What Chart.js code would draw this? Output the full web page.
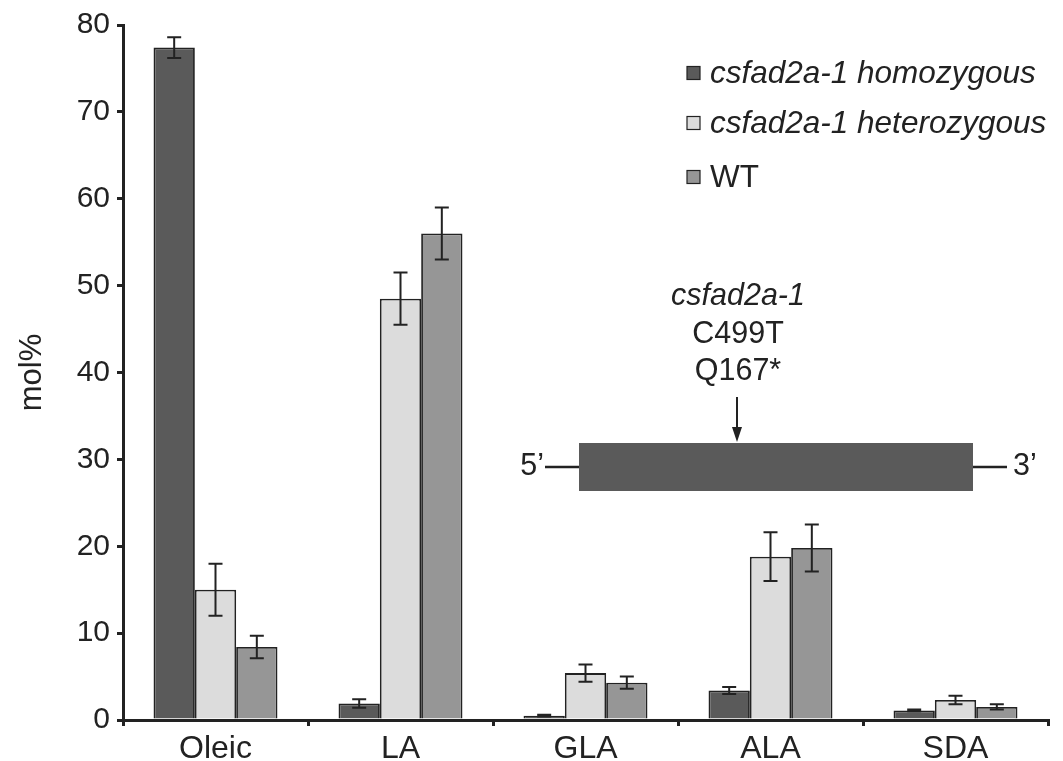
<!DOCTYPE html>
<html>
<head>
<meta charset="utf-8">
<script src="https://cdn.jsdelivr.net/npm/chart.js@4.4.1/dist/chart.umd.min.js"></script>
<style>
  html, body { margin: 0; background: #fff; }
  #wrap { width: 1063px; height: 761px; }
</style>
</head>
<body>
<div id="wrap"><canvas id="c"></canvas></div>
<script>
// fatty acid composition, mol%
const categories = ["Oleic", "LA", "GLA", "ALA", "SDA"];
const seriesNames = ["csfad2a-1 homozygous", "csfad2a-1 heterozygous", "WT"];
const seriesItalic = [true, true, false];
const seriesColors = ["#5a5a5a", "#dcdcdc", "#969696"];

const homozygous = [77.4, 1.9, 0.5, 3.4, 1.1];
const homozygousErr = [1.2, 0.5, 0.1, 0.4, 0.1];
const heterozygous = [15.0, 48.5, 5.4, 18.8, 2.3];
const heterozygousErr = [3.0, 3.0, 1.0, 2.8, 0.5];
const wildType = [8.4, 56.0, 4.3, 19.8, 1.5];
const wildTypeErr = [1.3, 3.0, 0.7, 2.7, 0.3];

const yTicks = [0, 10, 20, 30, 40, 50, 60, 70, 80];

// inset gene model text
const geneLabel = ["csfad2a-1", "C499T", "Q167*"];

const FONT = "'Liberation Sans', Arial, Helvetica, sans-serif";
const INK = "#222";

const errorBars = {
  id: "errorBars",
  afterDatasetsDraw(chart) {
    const { ctx } = chart;
    const y = chart.scales.y;
    ctx.save();
    ctx.strokeStyle = INK;
    ctx.lineWidth = 2;
    chart.data.datasets.forEach((ds, i) => {
      chart.getDatasetMeta(i).data.forEach((bar, j) => {
        const v = ds.data[j], e = ds.errors[j];
        const top = y.getPixelForValue(v + e);
        const bot = y.getPixelForValue(v - e);
        const x = bar.x, w = 7;
        ctx.beginPath();
        ctx.moveTo(x, top); ctx.lineTo(x, bot);
        ctx.moveTo(x - w, top); ctx.lineTo(x + w, top);
        ctx.moveTo(x - w, bot); ctx.lineTo(x + w, bot);
        ctx.stroke();
      });
    });
    ctx.restore();
  }
};

const legendAndInset = {
  id: "legendAndInset",
  afterDraw(chart) {
    const { ctx } = chart;
    ctx.save();

    // legend
    const lx = 687, ly = [73, 123, 177], sq = 13;
    chart.data.datasets.forEach((ds, i) => {
      ctx.fillStyle = ds.backgroundColor;
      ctx.strokeStyle = INK;
      ctx.lineWidth = 1.2;
      ctx.fillRect(lx, ly[i] - sq / 2, sq, sq);
      ctx.strokeRect(lx, ly[i] - sq / 2, sq, sq);
      ctx.fillStyle = INK;
      ctx.font = (seriesItalic[i] ? "italic " : "") + "31.5px " + FONT;
      ctx.textBaseline = "middle";
      ctx.textAlign = "left";
      ctx.fillText(ds.label, lx + sq + 10, ly[i] + 1);
    });

    // gene model
    const rx0 = 579, rx1 = 973, ry0 = 443, ry1 = 491, my = (ry0 + ry1) / 2;
    ctx.fillStyle = "#5a5a5a";
    ctx.fillRect(rx0, ry0, rx1 - rx0, ry1 - ry0);
    ctx.strokeStyle = INK;
    ctx.lineWidth = 2.5;
    ctx.beginPath();
    ctx.moveTo(545, my); ctx.lineTo(rx0, my);
    ctx.moveTo(rx1, my); ctx.lineTo(1007, my);
    ctx.stroke();

    ctx.fillStyle = INK;
    ctx.font = "30.5px " + FONT;
    ctx.textBaseline = "middle";
    ctx.textAlign = "right";
    ctx.fillText("5\u2019", 544, my);
    ctx.textAlign = "left";
    ctx.fillText("3\u2019", 1013, my);

    // arrow
    const ax = 737;
    ctx.lineWidth = 2;
    ctx.beginPath();
    ctx.moveTo(ax, 397); ctx.lineTo(ax, 430);
    ctx.stroke();
    ctx.beginPath();
    ctx.moveTo(ax - 5, 427); ctx.lineTo(ax + 5, 427); ctx.lineTo(ax, 442);
    ctx.closePath();
    ctx.fill();

    ctx.textAlign = "center";
    const ty = [297, 335, 372];
    geneLabel.forEach((t, i) => {
      ctx.font = (i === 0 ? "italic " : "") + "30.5px " + FONT;
      ctx.fillText(t, 738, ty[i]);
    });

    ctx.restore();
  }
};

const values = [homozygous, heterozygous, wildType];
const errs = [homozygousErr, heterozygousErr, wildTypeErr];

new Chart(document.getElementById("c"), {
  type: "bar",
  data: {
    labels: categories,
    datasets: seriesNames.map((name, i) => ({
      label: name,
      data: values[i],
      errors: errs[i],
      backgroundColor: seriesColors[i],
      borderColor: INK,
      borderWidth: 1.8,
      categoryPercentage: 0.67,
      barPercentage: 1.0
    }))
  },
  options: {
    responsive: true,
    maintainAspectRatio: false,
    animation: false,
    layout: { padding: { left: 0, top: 24, right: 15, bottom: 0 } },
    plugins: {
      legend: { display: false },
      tooltip: { enabled: false }
    },
    scales: {
      x: {
        ticks: { color: INK, font: { size: 32, family: FONT }, padding: 4 },
        grid: { drawOnChartArea: false, drawTicks: true, tickLength: 6, color: INK, lineWidth: 3, offset: true },
        border: { color: INK, width: 3 },
        afterFit(s) { s.height = 41; }
      },
      y: {
        min: 0,
        max: 80,
        afterBuildTicks(s) { s.ticks = yTicks.map(v => ({ value: v })); },
        ticks: { color: INK, font: { size: 30, family: FONT }, padding: 7 },
        grid: { drawOnChartArea: false, drawTicks: true, tickLength: 6, color: INK, lineWidth: 3 },
        border: { color: INK, width: 3 },
        title: { display: true, text: "mol%", color: INK, font: { size: 31, family: FONT }, padding: { top: 14, bottom: 0 } },
        afterFit(s) { s.width = 123; }
      }
    }
  },
  plugins: [errorBars, legendAndInset]
});
</script>
</body>
</html>
